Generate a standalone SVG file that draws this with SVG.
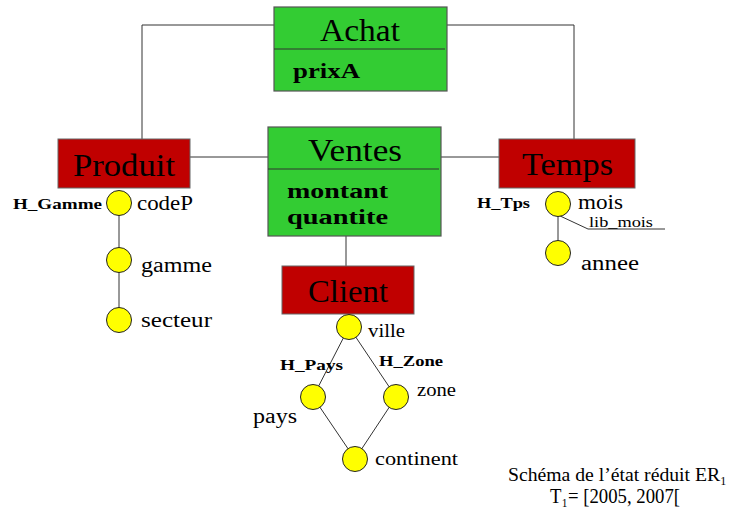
<svg xmlns="http://www.w3.org/2000/svg" width="735" height="512" viewBox="0 0 735 512" font-family="Liberation Serif, DejaVu Serif, serif">
<style>
.title{font-size:32px}
.attr{font-size:22px;font-weight:bold}
.lvl{font-size:20px}
.hier{font-size:14px;font-weight:bold}
.fact{fill:#33CC33;stroke:#555;stroke-width:1.2}
.dim{fill:#C00000;stroke:#666;stroke-width:1}
.pt{fill:#FFFF00;stroke:#222;stroke-width:1}
.ln{stroke:#333;stroke-width:1;fill:none}
</style>
<g id="connectors">
<polyline class="ln" points="274,25 142,25 142,139"/>
<polyline class="ln" points="447,25 574,25 574,139"/>
<line class="ln" x1="190" y1="157" x2="268" y2="157"/>
<line class="ln" x1="441" y1="157" x2="499" y2="157"/>
<line class="ln" x1="346" y1="236" x2="346" y2="266"/>
<line class="ln" x1="119" y1="203" x2="119" y2="320"/>
<line class="ln" x1="558" y1="204" x2="558" y2="253"/>
<polyline class="ln" points="558,215 588,229 665,229"/>
<line class="ln" x1="349" y1="327" x2="313" y2="397"/>
<line class="ln" x1="349" y1="327" x2="396" y2="397"/>
<line class="ln" x1="313" y1="397" x2="355" y2="459"/>
<line class="ln" x1="396" y1="397" x2="355" y2="459"/>
</g>
<g id="achat">
<rect class="fact" x="274" y="7" width="173" height="84"/>
<line class="ln" x1="274" y1="49" x2="445" y2="49"/>
<text class="title" x="320" y="41" textLength="80" lengthAdjust="spacingAndGlyphs">Achat</text>
<text class="attr" x="293" y="78" textLength="67" lengthAdjust="spacingAndGlyphs">prixA</text>
</g>
<g id="ventes">
<rect class="fact" x="268" y="127" width="173" height="109"/>
<line class="ln" x1="268" y1="169" x2="439" y2="169"/>
<text class="title" x="308" y="161" textLength="94" lengthAdjust="spacingAndGlyphs">Ventes</text>
<text class="attr" x="287" y="198" textLength="101" lengthAdjust="spacingAndGlyphs">montant</text>
<text class="attr" x="287" y="224" textLength="101" lengthAdjust="spacingAndGlyphs">quantite</text>
</g>
<g id="produit">
<rect class="dim" x="58" y="139" width="132" height="49"/>
<text class="title" x="73" y="176" textLength="102" lengthAdjust="spacingAndGlyphs">Produit</text>
</g>
<g id="temps">
<rect class="dim" x="499" y="139" width="136" height="49"/>
<text class="title" x="522" y="175" textLength="91" lengthAdjust="spacingAndGlyphs">Temps</text>
</g>
<g id="client">
<rect class="dim" x="282" y="266" width="132" height="48"/>
<text class="title" x="308" y="302" textLength="80" lengthAdjust="spacingAndGlyphs">Client</text>
</g>
<g id="codeP">
<circle class="pt" cx="119" cy="203" r="12.5"/>
<text class="hier" x="13" y="209" textLength="89" lengthAdjust="spacingAndGlyphs">H_Gamme</text>
<text class="lvl" x="137" y="210" textLength="56" lengthAdjust="spacingAndGlyphs">codeP</text>
</g>
<g id="gamme">
<circle class="pt" cx="119" cy="260" r="12.5"/>
<text class="lvl" x="141" y="272" textLength="71" lengthAdjust="spacingAndGlyphs">gamme</text>
</g>
<g id="secteur">
<circle class="pt" cx="119" cy="320" r="12.5"/>
<text class="lvl" x="141" y="327" textLength="71" lengthAdjust="spacingAndGlyphs">secteur</text>
</g>
<g id="mois">
<circle class="pt" cx="558" cy="204" r="12.5"/>
<text class="hier" x="477" y="208" textLength="53" lengthAdjust="spacingAndGlyphs">H_Tps</text>
<text class="lvl" x="578" y="209" textLength="45" lengthAdjust="spacingAndGlyphs">mois</text>
<text x="589" y="227" font-size="14" textLength="64" lengthAdjust="spacingAndGlyphs">lib_mois</text>
</g>
<g id="annee">
<circle class="pt" cx="558" cy="253" r="12.5"/>
<text class="lvl" x="581" y="270" textLength="58" lengthAdjust="spacingAndGlyphs">annee</text>
</g>
<g id="ville">
<circle class="pt" cx="349" cy="327" r="12.5"/>
<text x="368" y="337" font-size="18" textLength="37" lengthAdjust="spacingAndGlyphs">ville</text>
</g>
<g id="pays">
<circle class="pt" cx="313" cy="397" r="12.5"/>
<text class="hier" x="280" y="370" textLength="63" lengthAdjust="spacingAndGlyphs">H_Pays</text>
<text class="lvl" x="253" y="423" textLength="44" lengthAdjust="spacingAndGlyphs">pays</text>
</g>
<g id="zone">
<circle class="pt" cx="396" cy="397" r="12.5"/>
<text class="hier" x="379" y="366" textLength="64" lengthAdjust="spacingAndGlyphs">H_Zone</text>
<text x="417" y="396" font-size="18" textLength="39" lengthAdjust="spacingAndGlyphs">zone</text>
</g>
<g id="continent">
<circle class="pt" cx="355" cy="459" r="12.5"/>
<text x="375" y="465" font-size="18" textLength="83" lengthAdjust="spacingAndGlyphs">continent</text>
</g>
<g id="caption">
<text x="508" y="481" font-size="18" textLength="219" lengthAdjust="spacingAndGlyphs">Schéma de l’état réduit ER₁</text>
<text x="550" y="503" font-size="21" textLength="130" lengthAdjust="spacingAndGlyphs">T₁= [2005, 2007[</text>
</g>
</svg>
